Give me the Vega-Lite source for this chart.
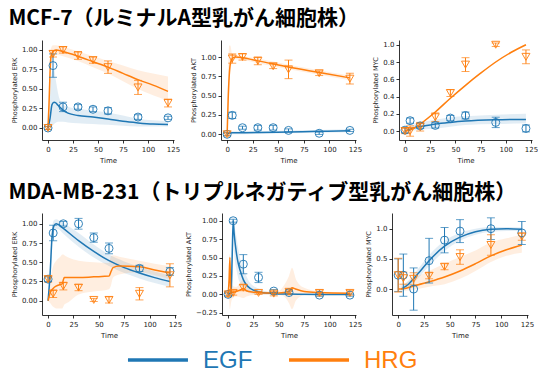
{
"$schema": "https://vega.github.io/schema/vega-lite/v6.json",
"padding": {"left": 8, "top": 8, "right": 0, "bottom": 0},
"background": "white",
"datasets": {
"obs": [
{"c":"MCF-7","p":"ERK","s":"EGF","t":0,"y":0,"e":0.02},{"c":"MCF-7","p":"ERK","s":"EGF","t":5,"y":0.8,"e":0.15},{"c":"MCF-7","p":"ERK","s":"EGF","t":15,"y":0.27,"e":0.06},{"c":"MCF-7","p":"ERK","s":"EGF","t":30,"y":0.27,"e":0.03},{"c":"MCF-7","p":"ERK","s":"EGF","t":45,"y":0.24,"e":0.03},{"c":"MCF-7","p":"ERK","s":"EGF","t":60,"y":0.22,"e":0.04},{"c":"MCF-7","p":"ERK","s":"EGF","t":90,"y":0.14,"e":0.03},{"c":"MCF-7","p":"ERK","s":"EGF","t":120,"y":0.13,"e":0.02},
{"c":"MCF-7","p":"ERK","s":"HRG","t":0,"y":0,"e":0.02},{"c":"MCF-7","p":"ERK","s":"HRG","t":5,"y":0.95,"e":0.04},{"c":"MCF-7","p":"ERK","s":"HRG","t":15,"y":1.0,"e":0.04},{"c":"MCF-7","p":"ERK","s":"HRG","t":30,"y":0.93,"e":0.05},{"c":"MCF-7","p":"ERK","s":"HRG","t":45,"y":0.87,"e":0.04},{"c":"MCF-7","p":"ERK","s":"HRG","t":60,"y":0.78,"e":0.08},{"c":"MCF-7","p":"ERK","s":"HRG","t":90,"y":0.52,"e":0.09},{"c":"MCF-7","p":"ERK","s":"HRG","t":120,"y":0.32,"e":0.05},
{"c":"MCF-7","p":"AKT","s":"EGF","t":0,"y":0,"e":0.02},{"c":"MCF-7","p":"AKT","s":"EGF","t":5,"y":0.245,"e":0.04},{"c":"MCF-7","p":"AKT","s":"EGF","t":15,"y":0.085,"e":0.02},{"c":"MCF-7","p":"AKT","s":"EGF","t":30,"y":0.085,"e":0.03},{"c":"MCF-7","p":"AKT","s":"EGF","t":45,"y":0.085,"e":0.03},{"c":"MCF-7","p":"AKT","s":"EGF","t":60,"y":0.05,"e":0.02},{"c":"MCF-7","p":"AKT","s":"EGF","t":90,"y":0.013,"e":0.015},{"c":"MCF-7","p":"AKT","s":"EGF","t":120,"y":0.05,"e":0.015},
{"c":"MCF-7","p":"AKT","s":"HRG","t":0,"y":0,"e":0.02},{"c":"MCF-7","p":"AKT","s":"HRG","t":5,"y":0.98,"e":0.06},{"c":"MCF-7","p":"AKT","s":"HRG","t":15,"y":1.0,"e":0.04},{"c":"MCF-7","p":"AKT","s":"HRG","t":30,"y":0.95,"e":0.05},{"c":"MCF-7","p":"AKT","s":"HRG","t":45,"y":0.88,"e":0.03},{"c":"MCF-7","p":"AKT","s":"HRG","t":60,"y":0.84,"e":0.12},{"c":"MCF-7","p":"AKT","s":"HRG","t":90,"y":0.79,"e":0.03},{"c":"MCF-7","p":"AKT","s":"HRG","t":120,"y":0.72,"e":0.07},
{"c":"MCF-7","p":"MYC","s":"EGF","t":0,"y":0.01,"e":0.03},{"c":"MCF-7","p":"MYC","s":"EGF","t":5,"y":0.12,"e":0.03},{"c":"MCF-7","p":"MYC","s":"EGF","t":15,"y":0.06,"e":0.03},{"c":"MCF-7","p":"MYC","s":"EGF","t":30,"y":0.065,"e":0.03},{"c":"MCF-7","p":"MYC","s":"EGF","t":45,"y":0.15,"e":0.03},{"c":"MCF-7","p":"MYC","s":"EGF","t":60,"y":0.18,"e":0.04},{"c":"MCF-7","p":"MYC","s":"EGF","t":90,"y":0.1,"e":0.06},{"c":"MCF-7","p":"MYC","s":"EGF","t":120,"y":0.03,"e":0.04},
{"c":"MCF-7","p":"MYC","s":"HRG","t":0,"y":0,"e":0.03},{"c":"MCF-7","p":"MYC","s":"HRG","t":5,"y":0,"e":0.06},{"c":"MCF-7","p":"MYC","s":"HRG","t":15,"y":0.05,"e":0.05},{"c":"MCF-7","p":"MYC","s":"HRG","t":30,"y":0.16,"e":0.05},{"c":"MCF-7","p":"MYC","s":"HRG","t":45,"y":0.44,"e":0.04},{"c":"MCF-7","p":"MYC","s":"HRG","t":60,"y":0.77,"e":0.08},{"c":"MCF-7","p":"MYC","s":"HRG","t":90,"y":1.0,"e":0.02},{"c":"MCF-7","p":"MYC","s":"HRG","t":120,"y":0.86,"e":0.08},
{"c":"MDA","p":"ERK","s":"EGF","t":0,"y":0.28,"e":0.03},{"c":"MDA","p":"ERK","s":"EGF","t":5,"y":0.88,"e":0.1},{"c":"MDA","p":"ERK","s":"EGF","t":15,"y":1.0,"e":0.03},{"c":"MDA","p":"ERK","s":"EGF","t":30,"y":1.0,"e":0.07},{"c":"MDA","p":"ERK","s":"EGF","t":45,"y":0.82,"e":0.06},{"c":"MDA","p":"ERK","s":"EGF","t":60,"y":0.68,"e":0.07},{"c":"MDA","p":"ERK","s":"EGF","t":90,"y":0.42,"e":0.04},{"c":"MDA","p":"ERK","s":"EGF","t":120,"y":0.38,"e":0.05},
{"c":"MDA","p":"ERK","s":"HRG","t":0,"y":0.28,"e":0.04},{"c":"MDA","p":"ERK","s":"HRG","t":5,"y":0.09,"e":0.05},{"c":"MDA","p":"ERK","s":"HRG","t":15,"y":0.19,"e":0.05},{"c":"MDA","p":"ERK","s":"HRG","t":30,"y":0.17,"e":0.04},{"c":"MDA","p":"ERK","s":"HRG","t":45,"y":0.01,"e":0.02},{"c":"MDA","p":"ERK","s":"HRG","t":60,"y":0.01,"e":0.04},{"c":"MDA","p":"ERK","s":"HRG","t":90,"y":0.09,"e":0.08},{"c":"MDA","p":"ERK","s":"HRG","t":120,"y":0.33,"e":0.15},
{"c":"MDA","p":"AKT","s":"EGF","t":0,"y":0,"e":0.02},{"c":"MDA","p":"AKT","s":"EGF","t":5,"y":1.0,"e":0.02},{"c":"MDA","p":"AKT","s":"EGF","t":15,"y":0.41,"e":0.13},{"c":"MDA","p":"AKT","s":"EGF","t":30,"y":0.23,"e":0.07},{"c":"MDA","p":"AKT","s":"EGF","t":45,"y":0.045,"e":0.02},{"c":"MDA","p":"AKT","s":"EGF","t":60,"y":0.025,"e":0.02},{"c":"MDA","p":"AKT","s":"EGF","t":90,"y":-0.01,"e":0.015},{"c":"MDA","p":"AKT","s":"EGF","t":120,"y":-0.01,"e":0.015},
{"c":"MDA","p":"AKT","s":"HRG","t":0,"y":0,"e":0.03},{"c":"MDA","p":"AKT","s":"HRG","t":5,"y":0.02,"e":0.03},{"c":"MDA","p":"AKT","s":"HRG","t":15,"y":0.09,"e":0.04},{"c":"MDA","p":"AKT","s":"HRG","t":30,"y":0.02,"e":0.02},{"c":"MDA","p":"AKT","s":"HRG","t":45,"y":0.01,"e":0.03},{"c":"MDA","p":"AKT","s":"HRG","t":60,"y":0.035,"e":0.03},{"c":"MDA","p":"AKT","s":"HRG","t":90,"y":0.02,"e":0.04},{"c":"MDA","p":"AKT","s":"HRG","t":120,"y":0.02,"e":0.03},
{"c":"MDA","p":"MYC","s":"EGF","t":0,"y":0.23,"e":0.27},{"c":"MDA","p":"MYC","s":"EGF","t":5,"y":0.23,"e":0.35},{"c":"MDA","p":"MYC","s":"EGF","t":15,"y":0,"e":0.35},{"c":"MDA","p":"MYC","s":"EGF","t":30,"y":0.47,"e":0.37},{"c":"MDA","p":"MYC","s":"EGF","t":45,"y":0.81,"e":0.21},{"c":"MDA","p":"MYC","s":"EGF","t":60,"y":0.96,"e":0.19},{"c":"MDA","p":"MYC","s":"EGF","t":90,"y":1.0,"e":0.18},{"c":"MDA","p":"MYC","s":"EGF","t":120,"y":0.93,"e":0.19},
{"c":"MDA","p":"MYC","s":"HRG","t":0,"y":0.23,"e":0.28},{"c":"MDA","p":"MYC","s":"HRG","t":5,"y":0.18,"e":0.1},{"c":"MDA","p":"MYC","s":"HRG","t":15,"y":0.17,"e":0.1},{"c":"MDA","p":"MYC","s":"HRG","t":30,"y":0.22,"e":0.05},{"c":"MDA","p":"MYC","s":"HRG","t":45,"y":0.37,"e":0.05},{"c":"MDA","p":"MYC","s":"HRG","t":60,"y":0.53,"e":0.12},{"c":"MDA","p":"MYC","s":"HRG","t":90,"y":0.73,"e":0.17},{"c":"MDA","p":"MYC","s":"HRG","t":120,"y":0.87,"e":0.06}
],
"fit": [
{"c":"MCF-7","p":"ERK","s":"EGF","t":0,"f":0,"lo":0,"hi":0},{"c":"MCF-7","p":"ERK","s":"EGF","t":2,"f":0.12,"lo":0,"hi":0.4},{"c":"MCF-7","p":"ERK","s":"EGF","t":4,"f":0.3,"lo":0.02,"hi":0.72},{"c":"MCF-7","p":"ERK","s":"EGF","t":6,"f":0.33,"lo":0.05,"hi":0.75},{"c":"MCF-7","p":"ERK","s":"EGF","t":8,"f":0.32,"lo":0.07,"hi":0.6},{"c":"MCF-7","p":"ERK","s":"EGF","t":10,"f":0.29,"lo":0.08,"hi":0.45},{"c":"MCF-7","p":"ERK","s":"EGF","t":15,"f":0.23,"lo":0.08,"hi":0.3},{"c":"MCF-7","p":"ERK","s":"EGF","t":20,"f":0.19,"lo":0.07,"hi":0.27},{"c":"MCF-7","p":"ERK","s":"EGF","t":30,"f":0.16,"lo":0.06,"hi":0.25},{"c":"MCF-7","p":"ERK","s":"EGF","t":45,"f":0.14,"lo":0.05,"hi":0.22},{"c":"MCF-7","p":"ERK","s":"EGF","t":60,"f":0.115,"lo":0.04,"hi":0.2},{"c":"MCF-7","p":"ERK","s":"EGF","t":75,"f":0.085,"lo":0.03,"hi":0.16},{"c":"MCF-7","p":"ERK","s":"EGF","t":90,"f":0.065,"lo":0.02,"hi":0.12},{"c":"MCF-7","p":"ERK","s":"EGF","t":105,"f":0.05,"lo":0.02,"hi":0.1},{"c":"MCF-7","p":"ERK","s":"EGF","t":120,"f":0.045,"lo":0.02,"hi":0.09},
{"c":"MCF-7","p":"ERK","s":"HRG","t":0,"f":0,"lo":0,"hi":0},{"c":"MCF-7","p":"ERK","s":"HRG","t":1,"f":0.3,"lo":0.2,"hi":0.45},{"c":"MCF-7","p":"ERK","s":"HRG","t":2,"f":0.7,"lo":0.55,"hi":0.85},{"c":"MCF-7","p":"ERK","s":"HRG","t":3,"f":0.92,"lo":0.82,"hi":1.02},{"c":"MCF-7","p":"ERK","s":"HRG","t":5,"f":0.98,"lo":0.9,"hi":1.06},{"c":"MCF-7","p":"ERK","s":"HRG","t":8,"f":1.0,"lo":0.94,"hi":1.06},{"c":"MCF-7","p":"ERK","s":"HRG","t":15,"f":0.98,"lo":0.92,"hi":1.04},{"c":"MCF-7","p":"ERK","s":"HRG","t":30,"f":0.92,"lo":0.86,"hi":0.98},{"c":"MCF-7","p":"ERK","s":"HRG","t":45,"f":0.85,"lo":0.78,"hi":0.92},{"c":"MCF-7","p":"ERK","s":"HRG","t":60,"f":0.78,"lo":0.7,"hi":0.86},{"c":"MCF-7","p":"ERK","s":"HRG","t":75,"f":0.7,"lo":0.6,"hi":0.8},{"c":"MCF-7","p":"ERK","s":"HRG","t":90,"f":0.62,"lo":0.5,"hi":0.74},{"c":"MCF-7","p":"ERK","s":"HRG","t":105,"f":0.55,"lo":0.42,"hi":0.7},{"c":"MCF-7","p":"ERK","s":"HRG","t":120,"f":0.47,"lo":0.35,"hi":0.66},
{"c":"MCF-7","p":"AKT","s":"EGF","t":0,"f":0,"lo":0,"hi":0},{"c":"MCF-7","p":"AKT","s":"EGF","t":2,"f":0.015,"lo":0,"hi":0.03},{"c":"MCF-7","p":"AKT","s":"EGF","t":5,"f":0.02,"lo":0,"hi":0.04},{"c":"MCF-7","p":"AKT","s":"EGF","t":30,"f":0.022,"lo":0.005,"hi":0.04},{"c":"MCF-7","p":"AKT","s":"EGF","t":60,"f":0.03,"lo":0.012,"hi":0.05},{"c":"MCF-7","p":"AKT","s":"EGF","t":90,"f":0.038,"lo":0.02,"hi":0.056},{"c":"MCF-7","p":"AKT","s":"EGF","t":120,"f":0.045,"lo":0.025,"hi":0.065},
{"c":"MCF-7","p":"AKT","s":"HRG","t":0,"f":0,"lo":0,"hi":0},{"c":"MCF-7","p":"AKT","s":"HRG","t":1,"f":0.45,"lo":0.2,"hi":0.8},{"c":"MCF-7","p":"AKT","s":"HRG","t":2,"f":0.75,"lo":0.5,"hi":1.15},{"c":"MCF-7","p":"AKT","s":"HRG","t":3,"f":0.9,"lo":0.8,"hi":1.15},{"c":"MCF-7","p":"AKT","s":"HRG","t":5,"f":0.98,"lo":0.93,"hi":1.04},{"c":"MCF-7","p":"AKT","s":"HRG","t":8,"f":1.0,"lo":0.97,"hi":1.03},{"c":"MCF-7","p":"AKT","s":"HRG","t":30,"f":0.95,"lo":0.92,"hi":0.98},{"c":"MCF-7","p":"AKT","s":"HRG","t":60,"f":0.87,"lo":0.84,"hi":0.9},{"c":"MCF-7","p":"AKT","s":"HRG","t":90,"f":0.8,"lo":0.77,"hi":0.83},{"c":"MCF-7","p":"AKT","s":"HRG","t":120,"f":0.73,"lo":0.7,"hi":0.76},
{"c":"MCF-7","p":"MYC","s":"EGF","t":0,"f":0,"lo":0,"hi":0},{"c":"MCF-7","p":"MYC","s":"EGF","t":5,"f":0.02,"lo":0,"hi":0.05},{"c":"MCF-7","p":"MYC","s":"EGF","t":10,"f":0.04,"lo":0.01,"hi":0.08},{"c":"MCF-7","p":"MYC","s":"EGF","t":20,"f":0.06,"lo":0.02,"hi":0.11},{"c":"MCF-7","p":"MYC","s":"EGF","t":30,"f":0.08,"lo":0.03,"hi":0.13},{"c":"MCF-7","p":"MYC","s":"EGF","t":45,"f":0.1,"lo":0.05,"hi":0.16},{"c":"MCF-7","p":"MYC","s":"EGF","t":60,"f":0.115,"lo":0.07,"hi":0.17},{"c":"MCF-7","p":"MYC","s":"EGF","t":90,"f":0.13,"lo":0.08,"hi":0.19},{"c":"MCF-7","p":"MYC","s":"EGF","t":120,"f":0.135,"lo":0.09,"hi":0.2},
{"c":"MCF-7","p":"MYC","s":"HRG","t":0,"f":0,"lo":0,"hi":0},{"c":"MCF-7","p":"MYC","s":"HRG","t":5,"f":0.015,"lo":0.005,"hi":0.025},{"c":"MCF-7","p":"MYC","s":"HRG","t":10,"f":0.04,"lo":0.03,"hi":0.05},{"c":"MCF-7","p":"MYC","s":"HRG","t":15,"f":0.08,"lo":0.07,"hi":0.09},{"c":"MCF-7","p":"MYC","s":"HRG","t":30,"f":0.22,"lo":0.21,"hi":0.23},{"c":"MCF-7","p":"MYC","s":"HRG","t":45,"f":0.38,"lo":0.37,"hi":0.39},{"c":"MCF-7","p":"MYC","s":"HRG","t":60,"f":0.53,"lo":0.52,"hi":0.54},{"c":"MCF-7","p":"MYC","s":"HRG","t":75,"f":0.67,"lo":0.66,"hi":0.68},{"c":"MCF-7","p":"MYC","s":"HRG","t":90,"f":0.8,"lo":0.79,"hi":0.81},{"c":"MCF-7","p":"MYC","s":"HRG","t":105,"f":0.91,"lo":0.9,"hi":0.92},{"c":"MCF-7","p":"MYC","s":"HRG","t":120,"f":1.0,"lo":0.99,"hi":1.01},
{"c":"MDA","p":"ERK","s":"EGF","t":0,"f":0,"lo":0,"hi":0},{"c":"MDA","p":"ERK","s":"EGF","t":2,"f":0.35,"lo":0.25,"hi":0.45},{"c":"MDA","p":"ERK","s":"EGF","t":4,"f":0.85,"lo":0.75,"hi":0.95},{"c":"MDA","p":"ERK","s":"EGF","t":6,"f":0.98,"lo":0.9,"hi":1.05},{"c":"MDA","p":"ERK","s":"EGF","t":8,"f":1.0,"lo":0.93,"hi":1.06},{"c":"MDA","p":"ERK","s":"EGF","t":10,"f":0.99,"lo":0.93,"hi":1.05},{"c":"MDA","p":"ERK","s":"EGF","t":15,"f":0.94,"lo":0.87,"hi":1.01},{"c":"MDA","p":"ERK","s":"EGF","t":30,"f":0.78,"lo":0.7,"hi":0.88},{"c":"MDA","p":"ERK","s":"EGF","t":45,"f":0.64,"lo":0.56,"hi":0.73},{"c":"MDA","p":"ERK","s":"EGF","t":60,"f":0.52,"lo":0.45,"hi":0.6},{"c":"MDA","p":"ERK","s":"EGF","t":75,"f":0.43,"lo":0.36,"hi":0.51},{"c":"MDA","p":"ERK","s":"EGF","t":90,"f":0.36,"lo":0.29,"hi":0.44},{"c":"MDA","p":"ERK","s":"EGF","t":105,"f":0.3,"lo":0.23,"hi":0.38},{"c":"MDA","p":"ERK","s":"EGF","t":120,"f":0.25,"lo":0.18,"hi":0.33},
{"c":"MDA","p":"ERK","s":"HRG","t":0,"f":0,"lo":0,"hi":0},{"c":"MDA","p":"ERK","s":"HRG","t":2,"f":0.1,"lo":-0.03,"hi":0.25},{"c":"MDA","p":"ERK","s":"HRG","t":5,"f":0.16,"lo":-0.08,"hi":0.45},{"c":"MDA","p":"ERK","s":"HRG","t":8,"f":0.19,"lo":-0.1,"hi":0.52},{"c":"MDA","p":"ERK","s":"HRG","t":12,"f":0.21,"lo":-0.1,"hi":0.57},{"c":"MDA","p":"ERK","s":"HRG","t":14,"f":0.22,"lo":-0.1,"hi":0.6},{"c":"MDA","p":"ERK","s":"HRG","t":15,"f":0.27,"lo":-0.08,"hi":0.6},{"c":"MDA","p":"ERK","s":"HRG","t":16,"f":0.3,"lo":-0.05,"hi":0.59},{"c":"MDA","p":"ERK","s":"HRG","t":20,"f":0.3,"lo":-0.02,"hi":0.56},{"c":"MDA","p":"ERK","s":"HRG","t":30,"f":0.3,"lo":0.08,"hi":0.52},{"c":"MDA","p":"ERK","s":"HRG","t":45,"f":0.31,"lo":0.12,"hi":0.5},{"c":"MDA","p":"ERK","s":"HRG","t":60,"f":0.32,"lo":0.15,"hi":0.49},{"c":"MDA","p":"ERK","s":"HRG","t":62,"f":0.38,"lo":0.2,"hi":0.58},{"c":"MDA","p":"ERK","s":"HRG","t":64,"f":0.43,"lo":0.3,"hi":0.59},{"c":"MDA","p":"ERK","s":"HRG","t":70,"f":0.45,"lo":0.34,"hi":0.57},{"c":"MDA","p":"ERK","s":"HRG","t":90,"f":0.44,"lo":0.37,"hi":0.52},{"c":"MDA","p":"ERK","s":"HRG","t":105,"f":0.4,"lo":0.33,"hi":0.48},{"c":"MDA","p":"ERK","s":"HRG","t":120,"f":0.36,"lo":0.28,"hi":0.45},
{"c":"MDA","p":"AKT","s":"EGF","t":0,"f":0,"lo":0,"hi":0},{"c":"MDA","p":"AKT","s":"EGF","t":3,"f":0.02,"lo":-0.02,"hi":0.1},{"c":"MDA","p":"AKT","s":"EGF","t":4,"f":0.5,"lo":0.2,"hi":0.8},{"c":"MDA","p":"AKT","s":"EGF","t":5,"f":1.0,"lo":0.75,"hi":1.05},{"c":"MDA","p":"AKT","s":"EGF","t":6,"f":0.82,"lo":0.55,"hi":0.95},{"c":"MDA","p":"AKT","s":"EGF","t":8,"f":0.58,"lo":0.35,"hi":0.8},{"c":"MDA","p":"AKT","s":"EGF","t":10,"f":0.42,"lo":0.22,"hi":0.62},{"c":"MDA","p":"AKT","s":"EGF","t":12,"f":0.32,"lo":0.15,"hi":0.48},{"c":"MDA","p":"AKT","s":"EGF","t":15,"f":0.2,"lo":0.08,"hi":0.35},{"c":"MDA","p":"AKT","s":"EGF","t":18,"f":0.13,"lo":0.04,"hi":0.25},{"c":"MDA","p":"AKT","s":"EGF","t":22,"f":0.08,"lo":0.02,"hi":0.15},{"c":"MDA","p":"AKT","s":"EGF","t":30,"f":0.035,"lo":0,"hi":0.08},{"c":"MDA","p":"AKT","s":"EGF","t":45,"f":0.01,"lo":0,"hi":0.02},{"c":"MDA","p":"AKT","s":"EGF","t":60,"f":0.005,"lo":0,"hi":0.01},{"c":"MDA","p":"AKT","s":"EGF","t":90,"f":0,"lo":0,"hi":0.005},{"c":"MDA","p":"AKT","s":"EGF","t":120,"f":0,"lo":0,"hi":0.005},
{"c":"MDA","p":"AKT","s":"HRG","t":0,"f":0,"lo":0,"hi":0},{"c":"MDA","p":"AKT","s":"HRG","t":1,"f":0.2,"lo":-0.1,"hi":0.45},{"c":"MDA","p":"AKT","s":"HRG","t":1.8,"f":0.5,"lo":-0.2,"hi":0.55},{"c":"MDA","p":"AKT","s":"HRG","t":2.5,"f":0.1,"lo":-0.15,"hi":0.3},{"c":"MDA","p":"AKT","s":"HRG","t":3.5,"f":0.03,"lo":-0.08,"hi":0.15},{"c":"MDA","p":"AKT","s":"HRG","t":5,"f":0.03,"lo":-0.05,"hi":0.11},{"c":"MDA","p":"AKT","s":"HRG","t":8,"f":0.04,"lo":-0.03,"hi":0.1},{"c":"MDA","p":"AKT","s":"HRG","t":12,"f":0.06,"lo":-0.04,"hi":0.16},{"c":"MDA","p":"AKT","s":"HRG","t":15,"f":0.08,"lo":-0.05,"hi":0.2},{"c":"MDA","p":"AKT","s":"HRG","t":18,"f":0.05,"lo":-0.03,"hi":0.12},{"c":"MDA","p":"AKT","s":"HRG","t":25,"f":0.03,"lo":-0.01,"hi":0.07},{"c":"MDA","p":"AKT","s":"HRG","t":35,"f":0.02,"lo":0,"hi":0.04},{"c":"MDA","p":"AKT","s":"HRG","t":50,"f":0.02,"lo":-0.01,"hi":0.05},{"c":"MDA","p":"AKT","s":"HRG","t":55,"f":0.025,"lo":-0.03,"hi":0.12},{"c":"MDA","p":"AKT","s":"HRG","t":60,"f":0.04,"lo":-0.12,"hi":0.25},{"c":"MDA","p":"AKT","s":"HRG","t":63,"f":0.09,"lo":-0.2,"hi":0.36},{"c":"MDA","p":"AKT","s":"HRG","t":67,"f":0.07,"lo":-0.08,"hi":0.2},{"c":"MDA","p":"AKT","s":"HRG","t":75,"f":0.04,"lo":-0.01,"hi":0.09},{"c":"MDA","p":"AKT","s":"HRG","t":90,"f":0.025,"lo":0.01,"hi":0.04},{"c":"MDA","p":"AKT","s":"HRG","t":120,"f":0.015,"lo":0.005,"hi":0.025},
{"c":"MDA","p":"MYC","s":"EGF","t":3,"f":0,"lo":-0.02,"hi":0.04},{"c":"MDA","p":"MYC","s":"EGF","t":10,"f":0.08,"lo":0.03,"hi":0.14},{"c":"MDA","p":"MYC","s":"EGF","t":15,"f":0.17,"lo":0.1,"hi":0.25},{"c":"MDA","p":"MYC","s":"EGF","t":20,"f":0.27,"lo":0.19,"hi":0.35},{"c":"MDA","p":"MYC","s":"EGF","t":30,"f":0.47,"lo":0.38,"hi":0.56},{"c":"MDA","p":"MYC","s":"EGF","t":45,"f":0.71,"lo":0.63,"hi":0.8},{"c":"MDA","p":"MYC","s":"EGF","t":60,"f":0.86,"lo":0.8,"hi":0.93},{"c":"MDA","p":"MYC","s":"EGF","t":75,"f":0.95,"lo":0.9,"hi":1.0},{"c":"MDA","p":"MYC","s":"EGF","t":90,"f":0.99,"lo":0.95,"hi":1.03},{"c":"MDA","p":"MYC","s":"EGF","t":105,"f":1.0,"lo":0.96,"hi":1.03},{"c":"MDA","p":"MYC","s":"EGF","t":120,"f":0.99,"lo":0.96,"hi":1.02},
{"c":"MDA","p":"MYC","s":"HRG","t":0,"f":0,"lo":-0.03,"hi":0.05},{"c":"MDA","p":"MYC","s":"HRG","t":5,"f":0.005,"lo":-0.03,"hi":0.08},{"c":"MDA","p":"MYC","s":"HRG","t":15,"f":0.05,"lo":-0.01,"hi":0.18},{"c":"MDA","p":"MYC","s":"HRG","t":30,"f":0.12,"lo":0.04,"hi":0.3},{"c":"MDA","p":"MYC","s":"HRG","t":45,"f":0.2,"lo":0.08,"hi":0.42},{"c":"MDA","p":"MYC","s":"HRG","t":60,"f":0.3,"lo":0.17,"hi":0.53},{"c":"MDA","p":"MYC","s":"HRG","t":75,"f":0.42,"lo":0.3,"hi":0.64},{"c":"MDA","p":"MYC","s":"HRG","t":90,"f":0.55,"lo":0.45,"hi":0.77},{"c":"MDA","p":"MYC","s":"HRG","t":105,"f":0.65,"lo":0.55,"hi":0.84},{"c":"MDA","p":"MYC","s":"HRG","t":120,"f":0.73,"lo":0.6,"hi":0.9}
],
"stims": [{"s": "EGF"}, {"s": "HRG"}]
},
"vconcat": [
{
"title": {"text": "MCF-7（ルミナルA型乳がん細胞株）"},
"spacing": 10,
"hconcat": [
{"width": 132, "height": 100,
 "encoding": {"x": {"field": "t", "type": "quantitative", "scale": {"domain": [-6, 126], "nice": false, "zero": false}, "axis": {"values": [0, 25, 50, 75, 100, 125], "title": "Time"}},
  "color": {"field": "s", "type": "nominal", "scale": {"domain": ["EGF", "HRG"], "range": ["#1f77b4", "#ff7f0e"]}, "legend": null}},
 "layer": [
  {"data": {"name": "fit"}, "transform": [{"filter": "datum.c==='MCF-7'&&datum.p==='ERK'"}], "mark": {"type": "area", "opacity": 0.13, "interpolate": "monotone"}, "encoding": {"y": {"field": "lo", "type": "quantitative", "scale": {"domain": [-0.154, 1.128], "nice": false, "zero": false}, "axis": {"values": [0, 0.25, 0.5, 0.75, 1], "format": ".2f", "title": "Phosphorylated ERK", "labelOverlap": false}}, "y2": {"field": "hi"}}},
  {"data": {"name": "fit"}, "transform": [{"filter": "datum.c==='MCF-7'&&datum.p==='ERK'"}], "mark": {"type": "line", "strokeWidth": 1.5, "interpolate": "monotone"}, "encoding": {"y": {"field": "f", "type": "quantitative", "axis": {"values": [0, 0.25, 0.5, 0.75, 1], "format": ".2f", "title": "Phosphorylated ERK", "labelOverlap": false}}}},
  {"data": {"name": "obs"}, "transform": [{"filter": "datum.c==='MCF-7'&&datum.p==='ERK'"}], "mark": {"type": "errorbar", "ticks": {"size": 8}, "thickness": 1}, "encoding": {"y": {"field": "y", "type": "quantitative", "axis": {"values": [0, 0.25, 0.5, 0.75, 1], "format": ".2f", "title": "Phosphorylated ERK", "labelOverlap": false}}, "yError": {"field": "e"}}},
  {"data": {"name": "obs"}, "transform": [{"filter": "datum.c==='MCF-7'&&datum.p==='ERK'"}], "mark": {"type": "point", "filled": false, "size": 64, "strokeWidth": 1, "opacity": 0.9}, "encoding": {"y": {"field": "y", "type": "quantitative", "axis": {"values": [0, 0.25, 0.5, 0.75, 1], "format": ".2f", "title": "Phosphorylated ERK", "labelOverlap": false}}, "shape": {"field": "s", "type": "nominal", "scale": {"domain": ["EGF", "HRG"], "range": ["circle", "triangle-down"]}, "legend": null}}}
 ]},
{"width": 135, "height": 100,
 "encoding": {"x": {"field": "t", "type": "quantitative", "scale": {"domain": [-6, 126], "nice": false, "zero": false}, "axis": {"values": [0, 25, 50, 75, 100, 125], "title": "Time"}},
  "color": {"field": "s", "type": "nominal", "scale": {"domain": ["EGF", "HRG"], "range": ["#1f77b4", "#ff7f0e"]}, "legend": null}},
 "layer": [
  {"data": {"name": "fit"}, "transform": [{"filter": "datum.c==='MCF-7'&&datum.p==='AKT'"}], "mark": {"type": "area", "opacity": 0.13, "interpolate": "monotone"}, "encoding": {"y": {"field": "lo", "type": "quantitative", "scale": {"domain": [-0.074, 1.22], "nice": false, "zero": false}, "axis": {"values": [0, 0.25, 0.5, 0.75, 1], "format": ".2f", "title": "Phosphorylated AKT", "labelOverlap": false}}, "y2": {"field": "hi"}}},
  {"data": {"name": "fit"}, "transform": [{"filter": "datum.c==='MCF-7'&&datum.p==='AKT'"}], "mark": {"type": "line", "strokeWidth": 1.5, "interpolate": "monotone"}, "encoding": {"y": {"field": "f", "type": "quantitative", "axis": {"values": [0, 0.25, 0.5, 0.75, 1], "format": ".2f", "title": "Phosphorylated AKT", "labelOverlap": false}}}},
  {"data": {"name": "obs"}, "transform": [{"filter": "datum.c==='MCF-7'&&datum.p==='AKT'"}], "mark": {"type": "errorbar", "ticks": {"size": 8}, "thickness": 1}, "encoding": {"y": {"field": "y", "type": "quantitative", "axis": {"values": [0, 0.25, 0.5, 0.75, 1], "format": ".2f", "title": "Phosphorylated AKT", "labelOverlap": false}}, "yError": {"field": "e"}}},
  {"data": {"name": "obs"}, "transform": [{"filter": "datum.c==='MCF-7'&&datum.p==='AKT'"}], "mark": {"type": "point", "filled": false, "size": 64, "strokeWidth": 1, "opacity": 0.9}, "encoding": {"y": {"field": "y", "type": "quantitative", "axis": {"values": [0, 0.25, 0.5, 0.75, 1], "format": ".2f", "title": "Phosphorylated AKT", "labelOverlap": false}}, "shape": {"field": "s", "type": "nominal", "scale": {"domain": ["EGF", "HRG"], "range": ["circle", "triangle-down"]}, "legend": null}}}
 ]},
{"width": 133, "height": 100,
 "encoding": {"x": {"field": "t", "type": "quantitative", "scale": {"domain": [-6, 126], "nice": false, "zero": false}, "axis": {"values": [0, 25, 50, 75, 100, 125], "title": "Time"}},
  "color": {"field": "s", "type": "nominal", "scale": {"domain": ["EGF", "HRG"], "range": ["#1f77b4", "#ff7f0e"]}, "legend": null}},
 "layer": [
  {"data": {"name": "fit"}, "transform": [{"filter": "datum.c==='MCF-7'&&datum.p==='MYC'"}], "mark": {"type": "area", "opacity": 0.13, "interpolate": "monotone"}, "encoding": {"y": {"field": "lo", "type": "quantitative", "scale": {"domain": [-0.104, 1.055], "nice": false, "zero": false}, "axis": {"values": [0, 0.2, 0.4, 0.6, 0.8, 1], "format": ".1f", "title": "Phosphorylated MYC", "labelOverlap": false}}, "y2": {"field": "hi"}}},
  {"data": {"name": "fit"}, "transform": [{"filter": "datum.c==='MCF-7'&&datum.p==='MYC'"}], "mark": {"type": "line", "strokeWidth": 1.5, "interpolate": "monotone"}, "encoding": {"y": {"field": "f", "type": "quantitative", "axis": {"values": [0, 0.2, 0.4, 0.6, 0.8, 1], "format": ".1f", "title": "Phosphorylated MYC", "labelOverlap": false}}}},
  {"data": {"name": "obs"}, "transform": [{"filter": "datum.c==='MCF-7'&&datum.p==='MYC'"}], "mark": {"type": "errorbar", "ticks": {"size": 8}, "thickness": 1}, "encoding": {"y": {"field": "y", "type": "quantitative", "axis": {"values": [0, 0.2, 0.4, 0.6, 0.8, 1], "format": ".1f", "title": "Phosphorylated MYC", "labelOverlap": false}}, "yError": {"field": "e"}}},
  {"data": {"name": "obs"}, "transform": [{"filter": "datum.c==='MCF-7'&&datum.p==='MYC'"}], "mark": {"type": "point", "filled": false, "size": 64, "strokeWidth": 1, "opacity": 0.9}, "encoding": {"y": {"field": "y", "type": "quantitative", "axis": {"values": [0, 0.2, 0.4, 0.6, 0.8, 1], "format": ".1f", "title": "Phosphorylated MYC", "labelOverlap": false}}, "shape": {"field": "s", "type": "nominal", "scale": {"domain": ["EGF", "HRG"], "range": ["circle", "triangle-down"]}, "legend": null}}}
 ]}
]
},
{
"spacing": 10,
"vconcat": [
{
"title": {"text": "MDA-MB-231（トリプルネガティブ型乳がん細胞株）"},
"spacing": 3,
"hconcat": [
{"width": 134, "height": 102,
 "encoding": {"x": {"field": "t", "type": "quantitative", "scale": {"domain": [-6, 126], "nice": false, "zero": false}, "axis": {"values": [0, 25, 50, 75, 100, 125], "title": "Time"}},
  "color": {"field": "s", "type": "nominal", "scale": {"domain": ["EGF", "HRG"], "range": ["#1f77b4", "#ff7f0e"]}, "legend": null}},
 "layer": [
  {"data": {"name": "fit"}, "transform": [{"filter": "datum.c==='MDA'&&datum.p==='ERK'"}], "mark": {"type": "area", "opacity": 0.13, "interpolate": "monotone"}, "encoding": {"y": {"field": "lo", "type": "quantitative", "scale": {"domain": [-0.186, 1.14], "nice": false, "zero": false}, "axis": {"values": [0, 0.25, 0.5, 0.75, 1], "format": ".2f", "title": "Phosphorylated ERK", "labelOverlap": false}}, "y2": {"field": "hi"}}},
  {"data": {"name": "fit"}, "transform": [{"filter": "datum.c==='MDA'&&datum.p==='ERK'"}], "mark": {"type": "line", "strokeWidth": 1.5, "interpolate": "monotone"}, "encoding": {"y": {"field": "f", "type": "quantitative", "axis": {"values": [0, 0.25, 0.5, 0.75, 1], "format": ".2f", "title": "Phosphorylated ERK", "labelOverlap": false}}}},
  {"data": {"name": "obs"}, "transform": [{"filter": "datum.c==='MDA'&&datum.p==='ERK'"}], "mark": {"type": "errorbar", "ticks": {"size": 8}, "thickness": 1}, "encoding": {"y": {"field": "y", "type": "quantitative", "axis": {"values": [0, 0.25, 0.5, 0.75, 1], "format": ".2f", "title": "Phosphorylated ERK", "labelOverlap": false}}, "yError": {"field": "e"}}},
  {"data": {"name": "obs"}, "transform": [{"filter": "datum.c==='MDA'&&datum.p==='ERK'"}], "mark": {"type": "point", "filled": false, "size": 64, "strokeWidth": 1, "opacity": 0.9}, "encoding": {"y": {"field": "y", "type": "quantitative", "axis": {"values": [0, 0.25, 0.5, 0.75, 1], "format": ".2f", "title": "Phosphorylated ERK", "labelOverlap": false}}, "shape": {"field": "s", "type": "nominal", "scale": {"domain": ["EGF", "HRG"], "range": ["circle", "triangle-down"]}, "legend": null}}}
 ]},
{"width": 134, "height": 102,
 "encoding": {"x": {"field": "t", "type": "quantitative", "scale": {"domain": [-6, 126], "nice": false, "zero": false}, "axis": {"values": [0, 25, 50, 75, 100, 125], "title": "Time"}},
  "color": {"field": "s", "type": "nominal", "scale": {"domain": ["EGF", "HRG"], "range": ["#1f77b4", "#ff7f0e"]}, "legend": null}},
 "layer": [
  {"data": {"name": "fit"}, "transform": [{"filter": "datum.c==='MDA'&&datum.p==='AKT'"}], "mark": {"type": "area", "opacity": 0.13, "interpolate": "monotone"}, "encoding": {"y": {"field": "lo", "type": "quantitative", "scale": {"domain": [-0.28, 1.105], "nice": false, "zero": false}, "axis": {"values": [-0.25, 0, 0.25, 0.5, 0.75, 1], "format": ".2f", "title": "Phosphorylated AKT", "labelOverlap": false}}, "y2": {"field": "hi"}}},
  {"data": {"name": "fit"}, "transform": [{"filter": "datum.c==='MDA'&&datum.p==='AKT'"}], "mark": {"type": "line", "strokeWidth": 1.5, "interpolate": "monotone"}, "encoding": {"y": {"field": "f", "type": "quantitative", "axis": {"values": [-0.25, 0, 0.25, 0.5, 0.75, 1], "format": ".2f", "title": "Phosphorylated AKT", "labelOverlap": false}}}},
  {"data": {"name": "obs"}, "transform": [{"filter": "datum.c==='MDA'&&datum.p==='AKT'"}], "mark": {"type": "errorbar", "ticks": {"size": 8}, "thickness": 1}, "encoding": {"y": {"field": "y", "type": "quantitative", "axis": {"values": [-0.25, 0, 0.25, 0.5, 0.75, 1], "format": ".2f", "title": "Phosphorylated AKT", "labelOverlap": false}}, "yError": {"field": "e"}}},
  {"data": {"name": "obs"}, "transform": [{"filter": "datum.c==='MDA'&&datum.p==='AKT'"}], "mark": {"type": "point", "filled": false, "size": 64, "strokeWidth": 1, "opacity": 0.9}, "encoding": {"y": {"field": "y", "type": "quantitative", "axis": {"values": [-0.25, 0, 0.25, 0.5, 0.75, 1], "format": ".2f", "title": "Phosphorylated AKT", "labelOverlap": false}}, "shape": {"field": "s", "type": "nominal", "scale": {"domain": ["EGF", "HRG"], "range": ["circle", "triangle-down"]}, "legend": null}}}
 ]},
{"width": 136, "height": 102,
 "encoding": {"x": {"field": "t", "type": "quantitative", "scale": {"domain": [-6, 126], "nice": false, "zero": false}, "axis": {"values": [0, 25, 50, 75, 100, 125], "title": "Time"}},
  "color": {"field": "s", "type": "nominal", "scale": {"domain": ["EGF", "HRG"], "range": ["#1f77b4", "#ff7f0e"]}, "legend": null}},
 "layer": [
  {"data": {"name": "fit"}, "transform": [{"filter": "datum.c==='MDA'&&datum.p==='MYC'"}], "mark": {"type": "area", "opacity": 0.13, "interpolate": "monotone"}, "encoding": {"y": {"field": "lo", "type": "quantitative", "scale": {"domain": [-0.43, 1.26], "nice": false, "zero": false}, "axis": {"values": [0, 0.5, 1], "format": ".1f", "title": "Phosphorylated MYC", "labelOverlap": false}}, "y2": {"field": "hi"}}},
  {"data": {"name": "fit"}, "transform": [{"filter": "datum.c==='MDA'&&datum.p==='MYC'"}], "mark": {"type": "line", "strokeWidth": 1.5, "interpolate": "monotone"}, "encoding": {"y": {"field": "f", "type": "quantitative", "axis": {"values": [0, 0.5, 1], "format": ".1f", "title": "Phosphorylated MYC", "labelOverlap": false}}}},
  {"data": {"name": "obs"}, "transform": [{"filter": "datum.c==='MDA'&&datum.p==='MYC'"}], "mark": {"type": "errorbar", "ticks": {"size": 8}, "thickness": 1}, "encoding": {"y": {"field": "y", "type": "quantitative", "axis": {"values": [0, 0.5, 1], "format": ".1f", "title": "Phosphorylated MYC", "labelOverlap": false}}, "yError": {"field": "e"}}},
  {"data": {"name": "obs"}, "transform": [{"filter": "datum.c==='MDA'&&datum.p==='MYC'"}], "mark": {"type": "point", "filled": false, "size": 64, "strokeWidth": 1, "opacity": 0.9}, "encoding": {"y": {"field": "y", "type": "quantitative", "axis": {"values": [0, 0.5, 1], "format": ".1f", "title": "Phosphorylated MYC", "labelOverlap": false}}, "shape": {"field": "s", "type": "nominal", "scale": {"domain": ["EGF", "HRG"], "range": ["circle", "triangle-down"]}, "legend": null}}}
 ]}
]
},
{
"width": 393, "height": 24,
"data": {"name": "stims"},
"encoding": {
 "x": {"field": "s", "type": "nominal", "scale": {"type": "point", "domain": ["EGF", "HRG"], "padding": 0.72}, "axis": null},
 "color": {"field": "s", "type": "nominal", "scale": {"domain": ["EGF", "HRG"], "range": ["#1f77b4", "#ff7f0e"]}, "legend": null}
},
"layer": [
 {"mark": {"type": "tick", "orient": "horizontal", "size": 60, "thickness": 3.5, "opacity": 1}},
 {"mark": {"type": "text", "align": "left", "baseline": "middle", "dx": 45, "dy": 1, "fontSize": 24, "font": "Liberation Sans"}, "encoding": {"text": {"field": "s"}}}
]
}
]
}
],
"spacing": 19,
"config": {
 "view": {"stroke": null},
 "font": "DejaVu Sans",
 "title": {"anchor": "start", "fontSize": 21, "font": "Noto Sans CJK JP", "fontWeight": "bold", "color": "#000", "offset": 10, "dx": -3},
 "axis": {"grid": false, "domainColor": "#000", "domainWidth": 0.8, "tickColor": "#000", "tickSize": 3, "tickWidth": 0.8, "labelFontSize": 7, "labelColor": "#222", "labelFont": "DejaVu Sans", "labelPadding": 2, "labelFlush": false, "labelOverlap": false, "titleFontSize": 7, "titleFont": "DejaVu Sans", "titleFontWeight": "normal", "titleColor": "#222", "titlePadding": 4},
 "axisY": {"titleFontSize": 6.5}
}
}
